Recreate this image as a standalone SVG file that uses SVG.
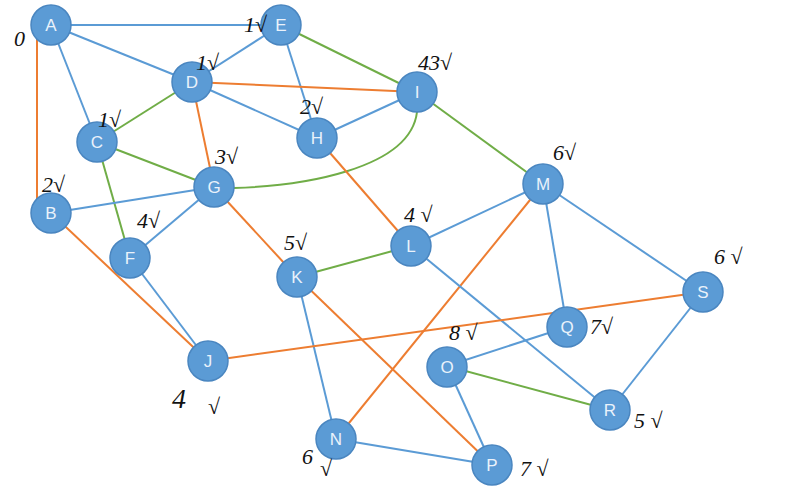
<svg xmlns="http://www.w3.org/2000/svg" width="812" height="496" viewBox="0 0 812 496">
<style>
.b{stroke:#5B9BD5;stroke-width:2;fill:none}
.o{stroke:#ED7D31;stroke-width:2;fill:none}
.g{stroke:#70AD47;stroke-width:2;fill:none}
.n circle{fill:#5B9BD5;stroke:#4A86C0;stroke-width:1.5}
.n text{fill:#EAF2FB;font-family:"Liberation Sans",Arial,sans-serif;font-size:17px;text-anchor:middle;dominant-baseline:central}
.h{font-family:"Liberation Serif","DejaVu Serif",serif;font-style:italic;font-size:22px;fill:#111}
</style>
<rect width="812" height="496" fill="#fff"/>
<g id="connectors">
<line class="b" x1="51" y1="25" x2="281" y2="25"/>
<line class="b" x1="51" y1="25" x2="192" y2="82"/>
<line class="b" x1="51" y1="25" x2="97" y2="142"/>
<line class="o" x1="37" y1="25" x2="37" y2="213"/>
<line class="b" x1="281" y1="25" x2="192" y2="82"/>
<line class="b" x1="281" y1="25" x2="317" y2="138"/>
<line class="g" x1="281" y1="25" x2="417" y2="92"/>
<line class="g" x1="192" y1="82" x2="97" y2="142"/>
<line class="o" x1="192" y1="82" x2="417" y2="92"/>
<line class="b" x1="192" y1="82" x2="317" y2="138"/>
<line class="o" x1="192" y1="82" x2="214" y2="187"/>
<line class="g" x1="97" y1="142" x2="214" y2="187"/>
<line class="g" x1="97" y1="142" x2="130" y2="258"/>
<line class="b" x1="417" y1="92" x2="317" y2="138"/>
<path class="g" d="M234,188 C300,186 410,170 417,112"/>
<line class="g" x1="417" y1="92" x2="543" y2="184"/>
<line class="o" x1="317" y1="138" x2="411" y2="246"/>
<line class="b" x1="51" y1="213" x2="214" y2="187"/>
<line class="o" x1="51" y1="213" x2="208" y2="361"/>
<line class="b" x1="214" y1="187" x2="130" y2="258"/>
<line class="o" x1="214" y1="187" x2="297" y2="277"/>
<line class="b" x1="130" y1="258" x2="208" y2="361"/>
<line class="b" x1="543" y1="184" x2="411" y2="246"/>
<line class="o" x1="543" y1="184" x2="336" y2="439"/>
<line class="b" x1="543" y1="184" x2="567" y2="327"/>
<line class="b" x1="543" y1="184" x2="703" y2="292"/>
<line class="g" x1="411" y1="246" x2="297" y2="277"/>
<line class="b" x1="411" y1="246" x2="610" y2="410"/>
<line class="b" x1="297" y1="277" x2="336" y2="439"/>
<line class="o" x1="297" y1="277" x2="492" y2="465"/>
<line class="o" x1="703" y1="292" x2="208" y2="361"/>
<line class="b" x1="703" y1="292" x2="610" y2="410"/>
<line class="b" x1="567" y1="327" x2="447" y2="366"/>
<line class="g" x1="447" y1="366" x2="610" y2="410"/>
<line class="b" x1="447" y1="366" x2="492" y2="465"/>
<line class="b" x1="336" y1="439" x2="492" y2="465"/>
</g>
<g id="A" class="n"><circle cx="51" cy="25" r="20"/><text x="51" y="25">A</text></g>
<g id="E" class="n"><circle cx="281" cy="25" r="20"/><text x="281" y="25">E</text></g>
<g id="D" class="n"><circle cx="192" cy="82" r="20"/><text x="192" y="82">D</text></g>
<g id="I" class="n"><circle cx="417" cy="92" r="20"/><text x="417" y="92">I</text></g>
<g id="C" class="n"><circle cx="97" cy="142" r="20"/><text x="97" y="142">C</text></g>
<g id="H" class="n"><circle cx="317" cy="138" r="20"/><text x="317" y="138">H</text></g>
<g id="G" class="n"><circle cx="214" cy="187" r="20"/><text x="214" y="187">G</text></g>
<g id="B" class="n"><circle cx="51" cy="213" r="20"/><text x="51" y="213">B</text></g>
<g id="M" class="n"><circle cx="543" cy="184" r="20"/><text x="543" y="184">M</text></g>
<g id="F" class="n"><circle cx="130" cy="258" r="20"/><text x="130" y="258">F</text></g>
<g id="L" class="n"><circle cx="411" cy="246" r="20"/><text x="411" y="246">L</text></g>
<g id="K" class="n"><circle cx="297" cy="277" r="20"/><text x="297" y="277">K</text></g>
<g id="S" class="n"><circle cx="703" cy="292" r="20"/><text x="703" y="292">S</text></g>
<g id="Q" class="n"><circle cx="567" cy="327" r="20"/><text x="567" y="327">Q</text></g>
<g id="J" class="n"><circle cx="208" cy="361" r="20"/><text x="208" y="361">J</text></g>
<g id="O" class="n"><circle cx="447" cy="367" r="20"/><text x="447" y="367">O</text></g>
<g id="R" class="n"><circle cx="610" cy="410" r="20"/><text x="610" y="410">R</text></g>
<g id="N" class="n"><circle cx="336" cy="439" r="20"/><text x="336" y="439">N</text></g>
<g id="P" class="n"><circle cx="492" cy="465" r="20"/><text x="492" y="465">P</text></g>
<g id="annotations" class="h">
<text x="14" y="46">0</text>
<text x="244" y="32">1√</text>
<text x="196" y="70">1√</text>
<text x="98" y="127">1√</text>
<text x="42" y="192">2√</text>
<text x="215" y="164">3√</text>
<text x="300" y="114">2√</text>
<text x="418" y="70">43√</text>
<text x="553" y="160">6√</text>
<text x="137" y="228">4√</text>
<text x="404" y="222">4 √</text>
<text x="284" y="250">5√</text>
<text x="714" y="264">6 √</text>
<text x="590" y="334">7√</text>
<text x="449" y="340">8 √</text>
<text x="634" y="428">5 √</text>
<text x="302" y="464">6</text>
<text x="320" y="476">√</text>
<text x="520" y="476">7 √</text>
<text x="172" y="408" font-size="28">4</text>
<text x="208" y="414">√</text>
</g>
</svg>
